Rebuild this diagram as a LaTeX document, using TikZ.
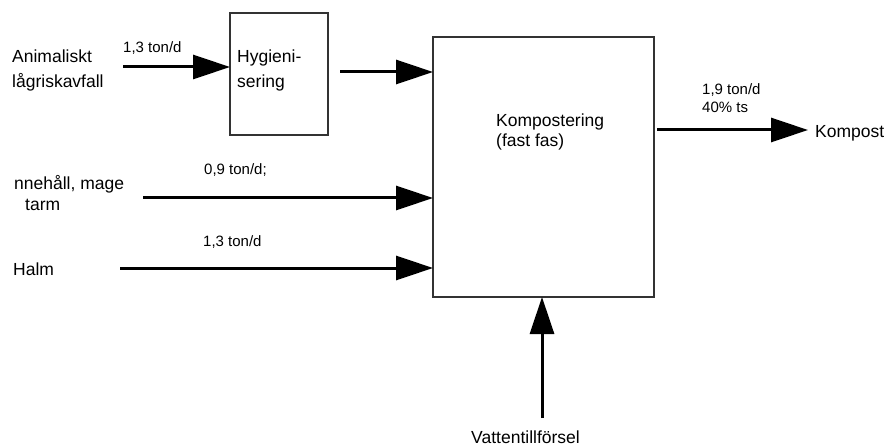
\documentclass[tikz,border=0pt]{standalone}
\usepackage{fontspec}
\setmainfont{Liberation Sans}
\usetikzlibrary{arrows.meta}
\begin{document}
\begin{tikzpicture}[x=1pt,y=-1pt,
  box/.style={draw=black!80,line width=1.1pt,inner sep=0pt},
  flow/.style={line width=3pt,-{Triangle[length=37pt,width=24pt]}},
  big/.style={inner sep=0pt,anchor=base west,font=\fontsize{17.5}{25}\selectfont},
  small/.style={inner sep=0pt,anchor=base west,font=\fontsize{15}{18}\selectfont}]
\useasboundingbox (0,0) rectangle (888,446);
% boxes
\node[box,minimum width=98pt,minimum height=122pt] (hyg) at (279,74) {};
\node[box,minimum width=221pt,minimum height=260pt] (komp) at (543.5,167) {};
% texts
\node[big] (anim) at (12,63) {Animaliskt};
\node[big] (lag) at (12,88) {lågriskavfall};
\node[big] (hy1) at (237,63) {Hygieni-};
\node[big] (hy2) at (237,88) {sering};
\node[big] (inne) at (14,190) {nnehåll, mage};
\node[big] (tarm) at (25,211) {tarm};
\node[big] (halm) at (13,275) {Halm};
\node[big] (k1) at (496,127) {Kompostering};
\node[big] (k2) at (496,147) {(fast fas)};
\node[big] (kompost) at (815,138) {Kompost};
\node[big] (vatten) at (471,443) {Vattentillförsel};
\node[small] (l1) at (123,53) {1,3 ton/d};
\node[small] (l2) at (204,175) {0,9 ton/d;};
\node[small] (l3) at (203,247) {1,3 ton/d};
\node[small] (l4) at (702,95) {1,9 ton/d};
\node[small] (l5) at (702,113) {40\% ts};
% coordinates for arrow ends
\coordinate (a1s) at (123,67);
\coordinate (a1e) at (230,67);
\coordinate (a2s) at (340,72);
\coordinate (a2e) at (433,72);
\coordinate (a3s) at (143,198);
\coordinate (a3e) at (433,198);
\coordinate (a4s) at (120,268);
\coordinate (a4e) at (433,268);
\coordinate (a5s) at (657,130);
\coordinate (a5e) at (808,130);
\coordinate (a6s) at (542,418);
\coordinate (a6e) at (542,297);
\draw[flow] (a1s) -- (a1e);
\draw[flow] (a2s) -- (a2e);
\draw[flow] (a3s) -- (a3e);
\draw[flow] (a4s) -- (a4e);
\draw[flow] (a5s) -- (a5e);
\draw[flow] (a6s) -- (a6e);
\end{tikzpicture}
\end{document}
